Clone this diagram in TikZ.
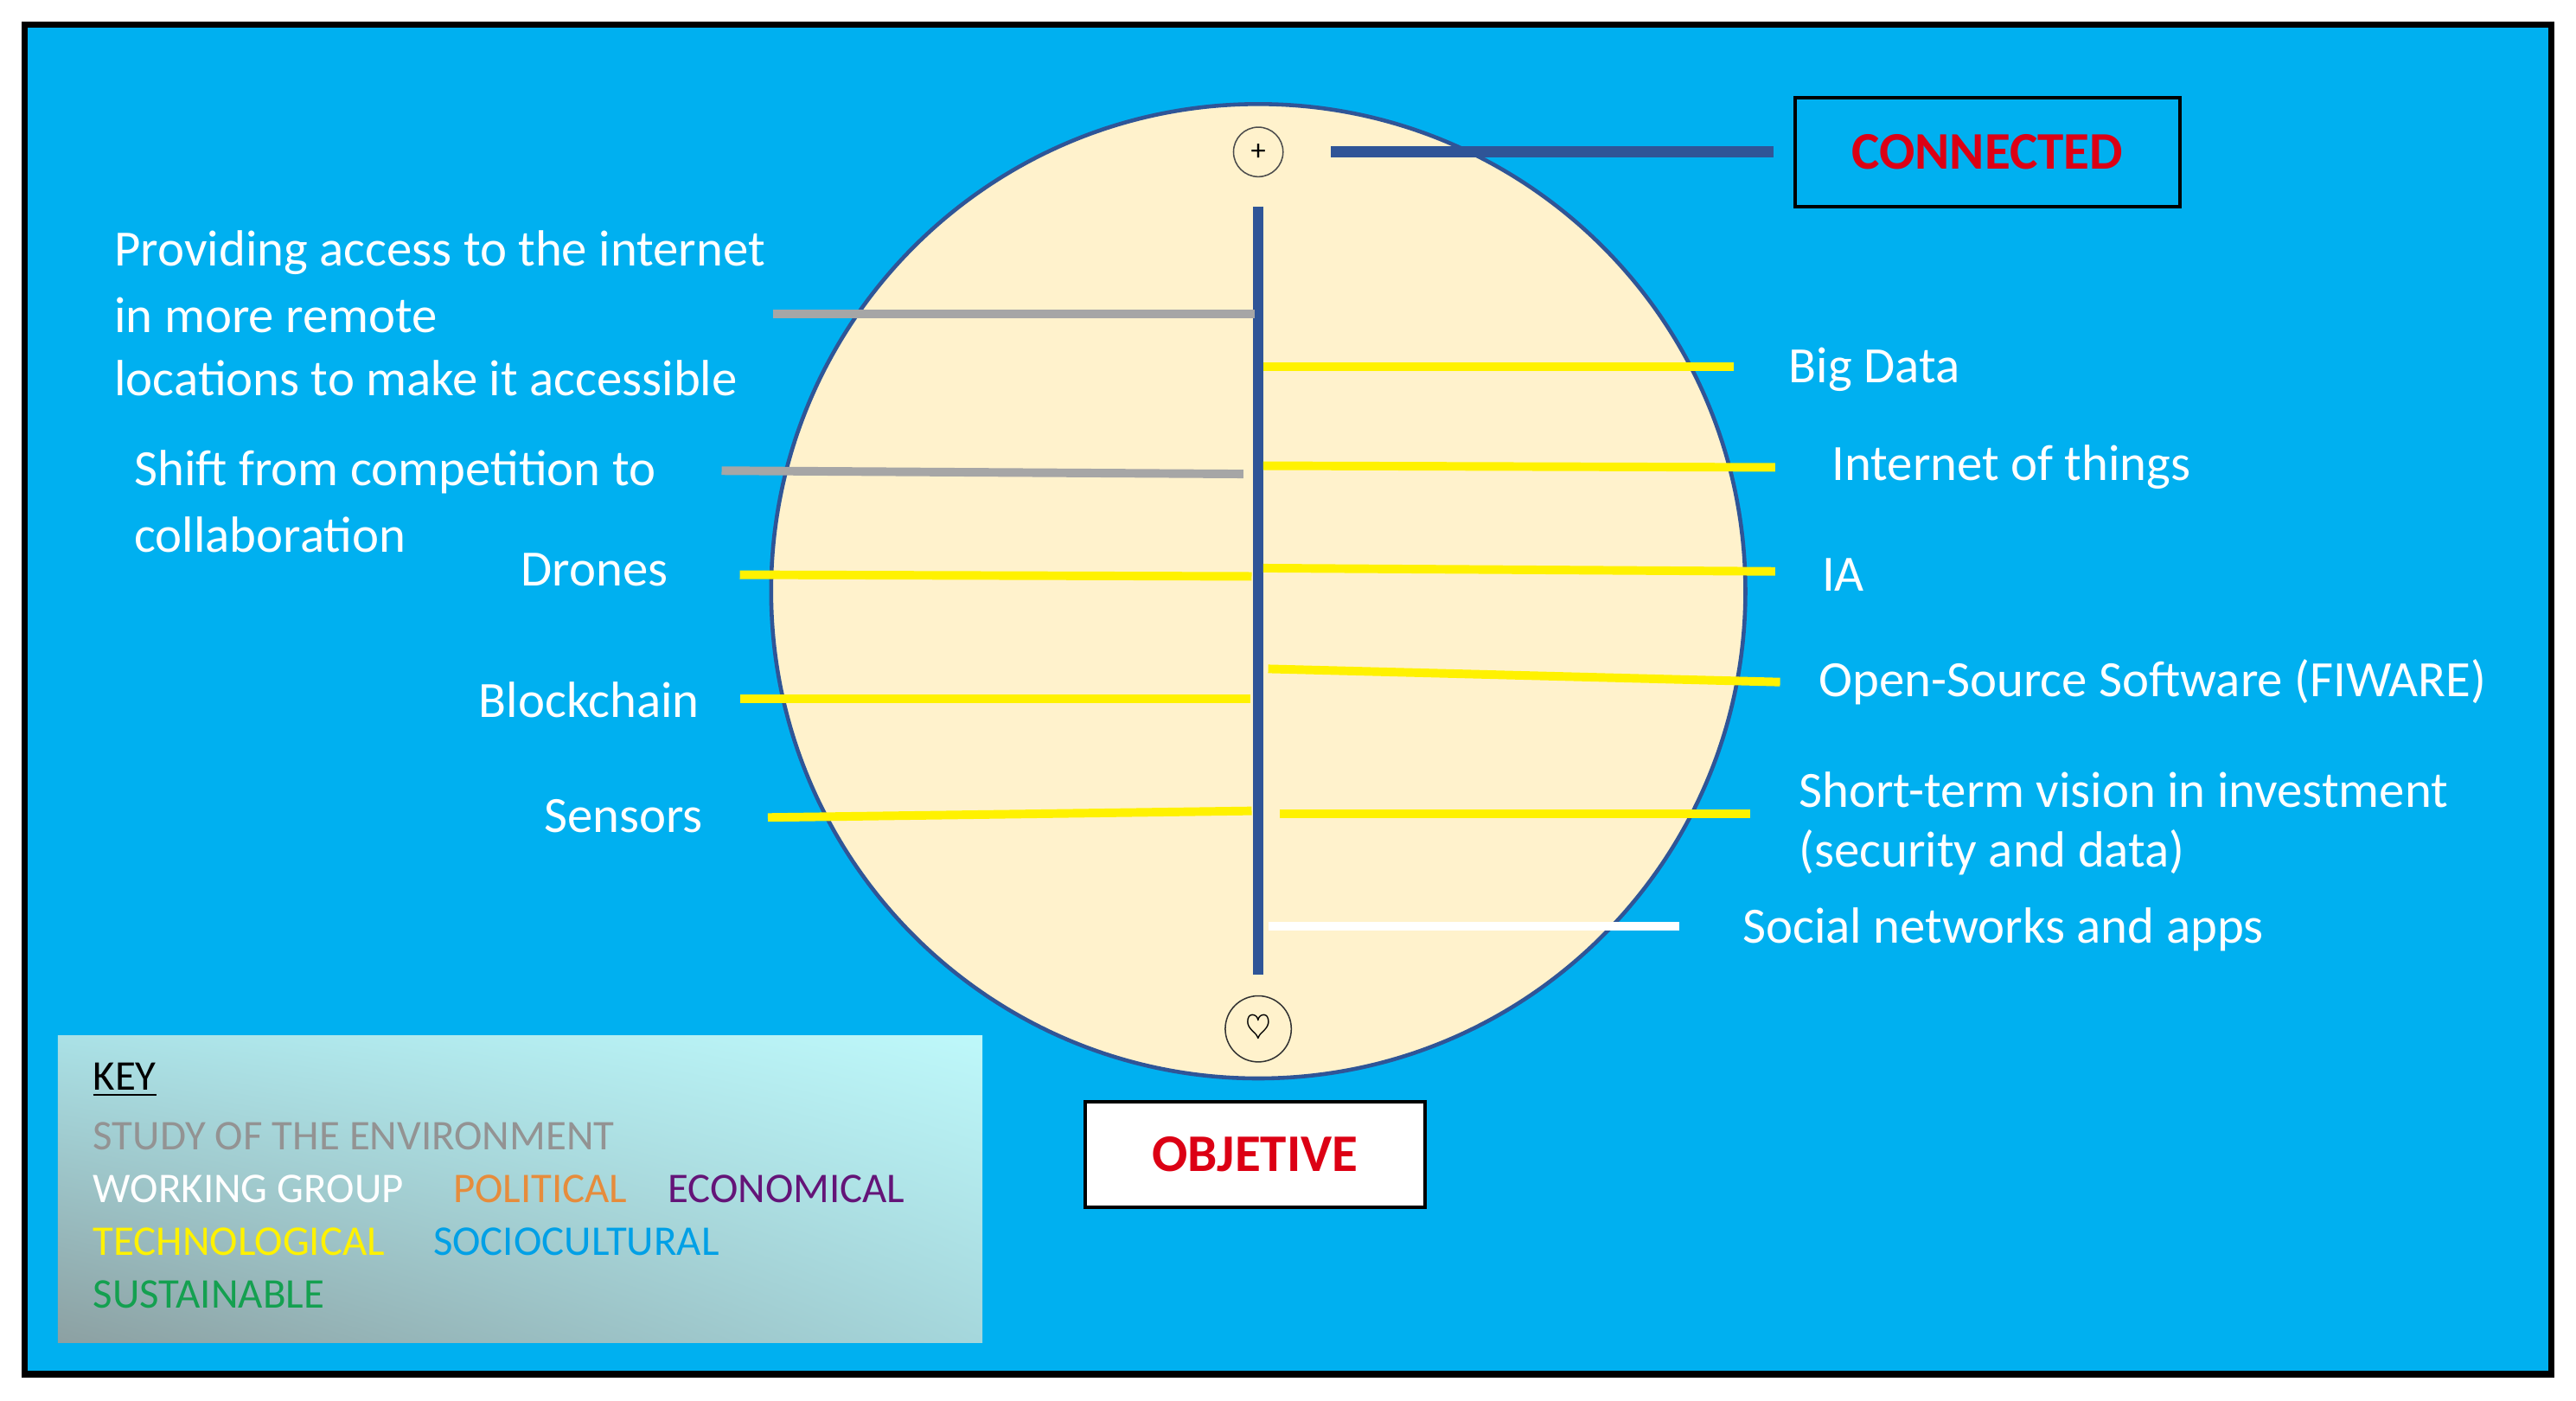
\documentclass[tikz,border=0pt]{standalone}
\usepackage{fontspec}
\usetikzlibrary{shadings}
\setmainfont{Carlito}
\definecolor{kul}{RGB}{170,225,230}
\definecolor{kur}{RGB}{190,248,250}
\definecolor{kll}{RGB}{140,160,162}
\definecolor{klr}{RGB}{165,215,220}
\begin{document}
\begin{tikzpicture}[x=0.5pt,y=-0.5pt,
  lbl/.style={text=white,font=\fontsize{15.4}{18}\selectfont,inner sep=0pt},
  keyt/.style={anchor=west,inner sep=0pt,font=\fontsize{12.8}{14}\selectfont},
  gl/.style={line width=2.6pt,color=gray!70},
  yl/.style={line width=2.6pt,color=yellow},
  wl/.style={line width=2.6pt,color=white},
  dbl/.style={color={rgb,255:red,47;green,85;blue,151}}]
\useasboundingbox (0,0) rectangle (1560,848);
\fill[white] (0,0) rectangle (1560,848);
\draw[line width=2pt,fill={rgb,255:red,0;green,176;blue,240}] (15,15) rectangle (1545,832);
\node[circle,minimum size=295pt,inner sep=0pt,fill={rgb,255:red,255;green,242;blue,204},draw={rgb,255:red,47;green,85;blue,151},line width=1.2pt] (globe) at (762,358) {};
\node[circle,draw=black!70,minimum size=15pt,inner sep=0pt,font=\small] (plus) at (762,92) {+};
\node[circle,draw=black!80,minimum size=20pt,inner sep=0pt] (heart) at (762,623) {$\heartsuit$};
\draw[dbl,line width=3pt] (762,125) -- (762,590);
\node[draw=black,line width=1pt,minimum width=116.5pt,minimum height=33pt,text={rgb,255:red,220;green,0;blue,20},font=\bfseries\fontsize{16}{19}\selectfont] (conn) at (1203.5,92) {CONNECTED};
\draw[dbl,line width=3.5pt] (806,92) -- ([xshift=-6pt]conn.west);
\node[draw=black,line width=1pt,fill=white,minimum width=103pt,minimum height=32pt,text={rgb,255:red,220;green,0;blue,20},font=\bfseries\fontsize{16}{19}\selectfont] (obj) at (760,699) {OBJETIVE};
% lines
\draw[gl] (468,190) -- (760,190);
\draw[gl] (437,285) -- (753,287);
\draw[yl] (448,348) -- (758,349);
\draw[yl] (448,423) -- (757,423);
\draw[yl] (465,495) -- (758,491);
\draw[yl] (765,222) -- (1050,222);
\draw[yl] (765,282) -- (1075,283);
\draw[yl] (765,344) -- (1075,346);
\draw[yl] (768,405) -- (1078,413);
\draw[yl] (775,493) -- (1060,493);
\draw[wl] (768,561) -- (1017,561);
% left labels
\node[lbl,anchor=west] (t1) at (69,153) {Providing access to the internet};
\node[lbl,anchor=west] (t2) at (69,191) {in more remote};
\node[lbl,anchor=west] (t3) at (69,229) {locations to make it accessible};
\node[lbl,anchor=west] (t4) at (81,286) {Shift from competition to};
\node[lbl,anchor=west] (t5) at (81,324) {collaboration};
\node[lbl,anchor=east] (t6) at (405,345) {Drones};
\node[lbl,anchor=east] (t7) at (424,424) {Blockchain};
\node[lbl,anchor=east] (t8) at (426,494) {Sensors};
% right labels
\node[lbl,anchor=west] (r1) at (1083,224) {Big Data};
\node[lbl,anchor=west] (r2) at (1109,283) {Internet of things};
\node[lbl,anchor=west] (r3) at (1103,348) {IA};
\node[lbl,anchor=west] (r4) at (1101,413) {Open-Source Software (FIWARE)};
\node[lbl,anchor=west] (r5) at (1089,478) {Short-term vision in investment};
\node[lbl,anchor=west] (r6) at (1089,516) {(security and data)};
\node[lbl,anchor=west] (r7) at (1055,563) {Social networks and apps};
% key
\shade[upper left=kul,upper right=kur,lower left=kll,lower right=klr] (35,627) rectangle (595,813);
\node[keyt,text=black] (k0) at (56,654) {\underline{KEY}};
\node[keyt,text=gray!85] (k1) at (56,688) {STUDY OF THE ENVIRONMENT};
\node[keyt,text=white] (k2) at (56,720) {WORKING GROUP};
\node[keyt,text={rgb,255:red,230;green,140;blue,60}] (k3) at (274,720) {POLITICAL};
\node[keyt,text={rgb,255:red,100;green,20;blue,120}] (k4) at (404,720) {ECONOMICAL};
\node[keyt,text=yellow] (k5) at (56,752) {TECHNOLOGICAL};
\node[keyt,text={rgb,255:red,0;green,160;blue,230}] (k6) at (262,752) {SOCIOCULTURAL};
\node[keyt,text={rgb,255:red,20;green,160;blue,80}] (k7) at (56,784) {SUSTAINABLE};
\end{tikzpicture}
\end{document}
